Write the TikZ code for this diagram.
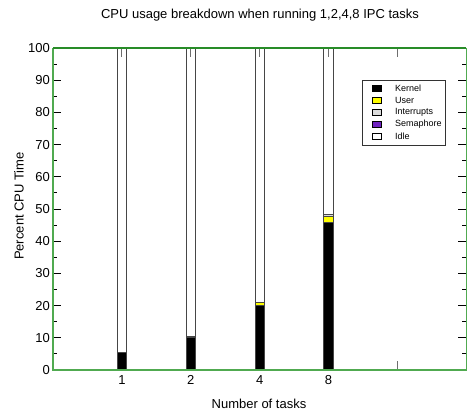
\documentclass[tikz,border=0pt]{standalone}
\usepackage{fontspec}
\setmainfont{Liberation Sans}
\definecolor{axgreen}{RGB}{80,170,80}
\definecolor{axdark}{RGB}{40,140,40}
\definecolor{tickgray}{RGB}{110,110,110}
\definecolor{barline}{RGB}{70,70,70}
\definecolor{intgray}{RGB}{220,220,220}
\definecolor{sempurple}{RGB}{112,34,192}
\definecolor{useryellow}{RGB}{255,255,0}
\tikzset{
  lbl/.style={font=\fontsize{13}{15}\selectfont, inner sep=0pt},
  leglbl/.style={font=\fontsize{9}{11}\selectfont, inner sep=0pt, anchor=west},
  legsq/.style={draw=black, line width=0.8pt},
  seg/.style={draw=barline, line width=0.7pt},
  xtick/.style={draw=tickgray, line width=0.9pt},
  ytick/.style={draw=black, line width=0.8pt}
}
\begin{document}
\begin{tikzpicture}[x=1pt,y=1pt]
\useasboundingbox (0,0) rectangle (467,420);
\node[lbl] (title) at (260,405) {CPU usage breakdown when running 1,2,4,8 IPC tasks};
\node[lbl, rotate=90] (ylabel) at (19,214) {Percent CPU Time};
\node[lbl] (xlabel) at (259,16) {Number of tasks};
\begin{scope}[shift={(53,50)}, x=68.9pt, y=3.22pt]
  % bottom ticks (hidden under bars)
  \foreach \i in {1,...,5} \draw[xtick] (\i,0) -- ++(0,9pt);
  % bars: position / kernel top / user top / interrupts top
  \foreach \i/\k/\u/\n in {1/5.6/5.6/5.6, 2/10.1/10.4/10.4, 3/20.0/20.9/21.1, 4/45.7/47.6/48.2} {
    \filldraw[seg, fill=white] (\i-0.069,\n) rectangle (\i+0.069,100);
    \filldraw[seg, fill=intgray] (\i-0.069,\u) rectangle (\i+0.069,\n);
    \filldraw[seg, fill=useryellow] (\i-0.069,\k) rectangle (\i+0.069,\u);
    \filldraw[seg, fill=black] (\i-0.069,0) rectangle (\i+0.069,\k);
  }
  % top ticks
  \foreach \i in {1,...,5} \draw[xtick] (\i,100) -- ++(0,-9pt);
  % y ticks
  \foreach \v in {10,20,...,90} {
    \draw[ytick] (0,\v) -- ++(8pt,0);
    \draw[ytick] (6,\v) -- ++(-8pt,0);
  }
  \foreach \v in {5,15,...,95} {
    \draw[ytick] (0,\v) -- ++(4pt,0);
    \draw[ytick] (6,\v) -- ++(-4pt,0);
  }
  % y tick labels
  \foreach \v in {0,10,...,100} \node[lbl, anchor=east] (yl\v) at ([xshift=-3pt]0,\v) {\v};
  % x tick labels
  \foreach \i/\t in {1/1,2/2,3/4,4/8} \node[lbl] (xl\t) at ([yshift=-10pt]\i,0) {\t};
  % frame
  \draw[axgreen, line width=1.3pt] (6,100) -- (6,0) -- (0,0) -- (0,100);
  \draw[axdark, line width=1.3pt] (0,100) -- (6,100);
\end{scope}
% legend
\draw[draw=black!80, line width=0.8pt, fill=white] (362.7,340) rectangle (445.7,275);
\foreach \c/\t [count=\j from 0] in {black/Kernel, useryellow/User, intgray/Interrupts, sempurple/Semaphore, white/Idle} {
  \filldraw[legsq, fill=\c] (372,{331.5-12*\j-3.3}) rectangle (381.5,{331.5-12*\j+3.3});
  \node[leglbl] (leg\j) at (395,{331.5-12*\j}) {\t};
}
\end{tikzpicture}
\end{document}
